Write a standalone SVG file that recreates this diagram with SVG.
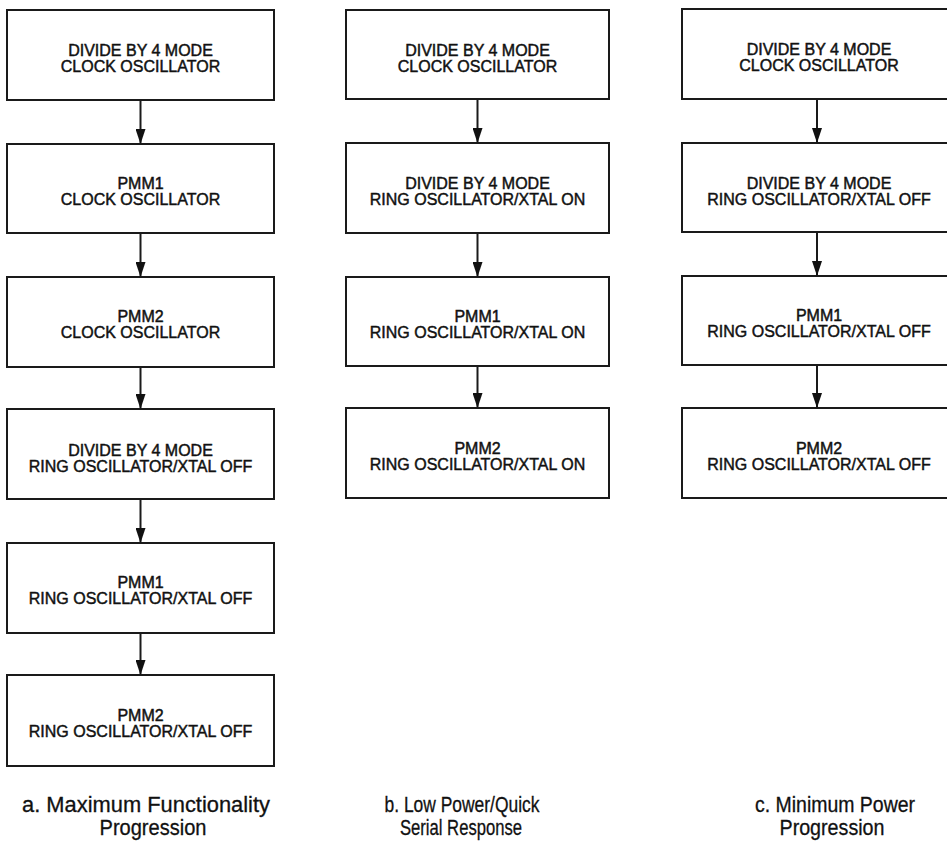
<svg xmlns="http://www.w3.org/2000/svg" width="947" height="842" viewBox="0 0 947 842">
  <style>
    .box { fill: #ffffff; stroke: #1a1a1a; stroke-width: 2; }
    .lbl { font-family: "Liberation Sans", Arial, Helvetica, sans-serif; font-size: 16px; fill: #111; stroke: #111; stroke-width: 0.45; text-anchor: middle; }
    .cap { font-family: "Liberation Sans", Arial, Helvetica, sans-serif; font-size: 22px; fill: #111; stroke: #111; stroke-width: 0.3; text-anchor: middle; }
    .link { stroke: #1a1a1a; stroke-width: 2; fill: none; marker-end: url(#arrow); }
  </style>
  <defs>
    <marker id="arrow" viewBox="0 0 15 10" refX="15" refY="5" markerWidth="15" markerHeight="10" markerUnits="userSpaceOnUse" orient="auto">
      <path d="M0,0 L15,5 L0,10 z" fill="#111"/>
    </marker>
  </defs>
  <rect width="947" height="842" fill="#ffffff"/>

  <!-- column a: maximum functionality progression -->
  <g id="a1"><rect class="box" x="7" y="10" width="267" height="90"/>
    <text class="lbl" x="140.5" y="56">DIVIDE BY 4 MODE</text>
    <text class="lbl" x="140.5" y="72">CLOCK OSCILLATOR</text></g>
  <g id="a2"><rect class="box" x="7" y="144" width="267" height="89"/>
    <text class="lbl" x="140.5" y="189">PMM1</text>
    <text class="lbl" x="140.5" y="205">CLOCK OSCILLATOR</text></g>
  <g id="a3"><rect class="box" x="7" y="277" width="267" height="90"/>
    <text class="lbl" x="140.5" y="322">PMM2</text>
    <text class="lbl" x="140.5" y="338">CLOCK OSCILLATOR</text></g>
  <g id="a4"><rect class="box" x="7" y="409" width="267" height="90"/>
    <text class="lbl" x="140.5" y="456">DIVIDE BY 4 MODE</text>
    <text class="lbl" x="140.5" y="472">RING OSCILLATOR/XTAL OFF</text></g>
  <g id="a5"><rect class="box" x="7" y="543" width="267" height="90"/>
    <text class="lbl" x="140.5" y="588">PMM1</text>
    <text class="lbl" x="140.5" y="604">RING OSCILLATOR/XTAL OFF</text></g>
  <g id="a6"><rect class="box" x="7" y="675" width="267" height="91"/>
    <text class="lbl" x="140.5" y="721">PMM2</text>
    <text class="lbl" x="140.5" y="737">RING OSCILLATOR/XTAL OFF</text></g>

  <!-- column b: low power / quick serial response -->
  <g id="b1"><rect class="box" x="346" y="10" width="263" height="89"/>
    <text class="lbl" x="477.5" y="56">DIVIDE BY 4 MODE</text>
    <text class="lbl" x="477.5" y="72">CLOCK OSCILLATOR</text></g>
  <g id="b2"><rect class="box" x="346" y="143" width="263" height="90"/>
    <text class="lbl" x="477.5" y="189">DIVIDE BY 4 MODE</text>
    <text class="lbl" x="477.5" y="205">RING OSCILLATOR/XTAL ON</text></g>
  <g id="b3"><rect class="box" x="346" y="277" width="263" height="89"/>
    <text class="lbl" x="477.5" y="322">PMM1</text>
    <text class="lbl" x="477.5" y="338">RING OSCILLATOR/XTAL ON</text></g>
  <g id="b4"><rect class="box" x="346" y="408" width="263" height="90"/>
    <text class="lbl" x="477.5" y="454">PMM2</text>
    <text class="lbl" x="477.5" y="470">RING OSCILLATOR/XTAL ON</text></g>

  <!-- column c: minimum power progression -->
  <g id="c1"><rect class="box" x="682" y="9" width="272" height="90"/>
    <text class="lbl" x="819" y="55">DIVIDE BY 4 MODE</text>
    <text class="lbl" x="819" y="71">CLOCK OSCILLATOR</text></g>
  <g id="c2"><rect class="box" x="682" y="143" width="272" height="89"/>
    <text class="lbl" x="819" y="189">DIVIDE BY 4 MODE</text>
    <text class="lbl" x="819" y="205">RING OSCILLATOR/XTAL OFF</text></g>
  <g id="c3"><rect class="box" x="682" y="276" width="272" height="89"/>
    <text class="lbl" x="819" y="321">PMM1</text>
    <text class="lbl" x="819" y="337">RING OSCILLATOR/XTAL OFF</text></g>
  <g id="c4"><rect class="box" x="682" y="408" width="272" height="90"/>
    <text class="lbl" x="819" y="454">PMM2</text>
    <text class="lbl" x="819" y="470">RING OSCILLATOR/XTAL OFF</text></g>

  <!-- connectors -->
  <g id="connectors">
    <line class="link" x1="140.5" y1="100" x2="140.5" y2="144"/>
    <line class="link" x1="140.5" y1="233" x2="140.5" y2="277"/>
    <line class="link" x1="140.5" y1="367" x2="140.5" y2="409"/>
    <line class="link" x1="140.5" y1="499" x2="140.5" y2="543"/>
    <line class="link" x1="140.5" y1="633" x2="140.5" y2="675"/>
    <line class="link" x1="477.5" y1="99" x2="477.5" y2="143"/>
    <line class="link" x1="477.5" y1="233" x2="477.5" y2="277"/>
    <line class="link" x1="477.5" y1="366" x2="477.5" y2="408"/>
    <line class="link" x1="817" y1="99" x2="817" y2="143"/>
    <line class="link" x1="817" y1="232" x2="817" y2="276"/>
    <line class="link" x1="817" y1="365" x2="817" y2="408"/>
  </g>

  <!-- captions -->
  <g id="captions">
    <text class="cap" x="146" y="812" textLength="248" lengthAdjust="spacingAndGlyphs">a.  Maximum Functionality</text>
    <text class="cap" x="153" y="835" textLength="107" lengthAdjust="spacingAndGlyphs">Progression</text>
    <text class="cap" x="462" y="812" textLength="155" lengthAdjust="spacingAndGlyphs">b.  Low Power/Quick</text>
    <text class="cap" x="461" y="835" textLength="122" lengthAdjust="spacingAndGlyphs">Serial Response</text>
    <text class="cap" x="835" y="812" textLength="160" lengthAdjust="spacingAndGlyphs">c.  Minimum Power</text>
    <text class="cap" x="832" y="835" textLength="105" lengthAdjust="spacingAndGlyphs">Progression</text>
  </g>
</svg>
